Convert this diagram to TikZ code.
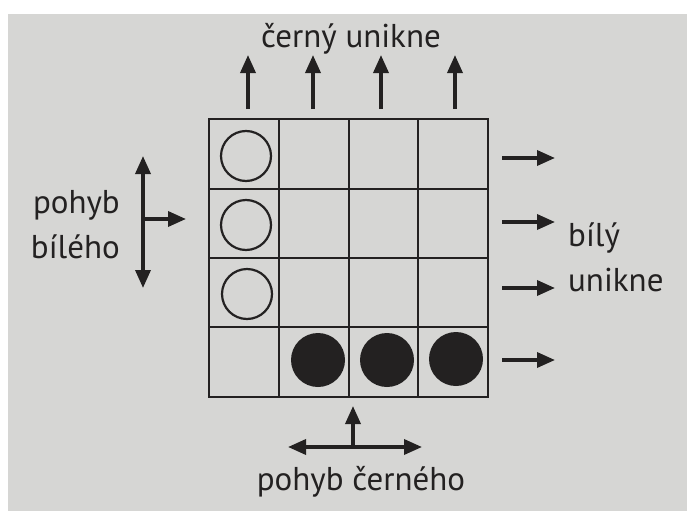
\documentclass[tikz,border=0pt]{standalone}
\usepackage{fontspec}
\setmainfont{PT Sans}
\usetikzlibrary{arrows.meta}
\definecolor{paper}{RGB}{214,214,212}
\definecolor{ink}{RGB}{35,33,33}
\tikzset{
  gridline/.style={draw=ink, line width=2.3pt},
  mvarrow/.style={draw=ink, line width=3.5pt, -{Triangle[length=18pt,width=15pt]}},
  dblarrow/.style={draw=ink, line width=3.5pt, {Triangle[length=18pt,width=15pt]}-{Triangle[length=18pt,width=15pt]}},
  whitestone/.style={circle, draw=ink, line width=2.2pt, minimum size=50pt, inner sep=0pt},
  blackstone/.style={circle, fill=ink, minimum size=54pt, inner sep=0pt},
  lbl/.style={text=ink, font=\fontsize{33}{38}\selectfont, inner sep=0pt}
}
\begin{document}
\begin{tikzpicture}[x=1pt, y=-1pt]
\useasboundingbox (0,0) rectangle (687,511);
\fill[white] (0,0) rectangle (687,511);
\fill[paper] (8,14) rectangle (687,511);
% grid
\draw[gridline] (209,119) rectangle (488,397);
\foreach \x in {279,349,418} \draw[gridline] (\x,119) -- (\x,397);
\foreach \y in {189,258,327} \draw[gridline] (209,\y) -- (488,\y);
% stones
\node[whitestone] (w1) at (246,156) {};
\node[whitestone] (w2) at (246,225) {};
\node[whitestone] (w3) at (247,294) {};
\node[blackstone] (b1) at (318,360) {};
\node[blackstone] (b2) at (387,360) {};
\node[blackstone] (b3) at (456,359) {};
% top arrows
\foreach \x/\n in {248/1,313/2,381/3,455/4}{
  \coordinate (ts\n) at (\x,109);
  \coordinate (te\n) at (\x,55);
  \draw[mvarrow] (ts\n) -- (te\n);
}
\node[lbl, anchor=base] (cu) at (351,48) {černý unikne};
% right arrows
\foreach \y/\n in {158/1,222/2,288/3,360/4}{
  \coordinate (rs\n) at (502,\y);
  \coordinate (re\n) at (555,\y);
  \draw[mvarrow] (rs\n) -- (re\n);
}
\node[lbl, anchor=base west] (bu1) at (568,246) {bílý};
\node[lbl, anchor=base west] (bu2) at (568,291) {unikne};
% left arrows
\coordinate (lt) at (143,156);
\coordinate (lb) at (143,288);
\coordinate (lm) at (143,219);
\coordinate (lr) at (186,219);
\draw[dblarrow] (lt) -- (lb);
\draw[mvarrow] (lm) -- (lr);
\node[lbl, anchor=base east] (pb1) at (120,213) {pohyb};
\node[lbl, anchor=base east] (pb2) at (120,258) {bílého};
% bottom arrows
\coordinate (bl) at (288,447);
\coordinate (br) at (422,447);
\coordinate (bm) at (353,447);
\coordinate (bt) at (353,406);
\draw[dblarrow] (bl) -- (br);
\draw[mvarrow] (bm) -- (bt);
\node[lbl, anchor=base] (pc) at (361,490) {pohyb černého};
\end{tikzpicture}
\end{document}
